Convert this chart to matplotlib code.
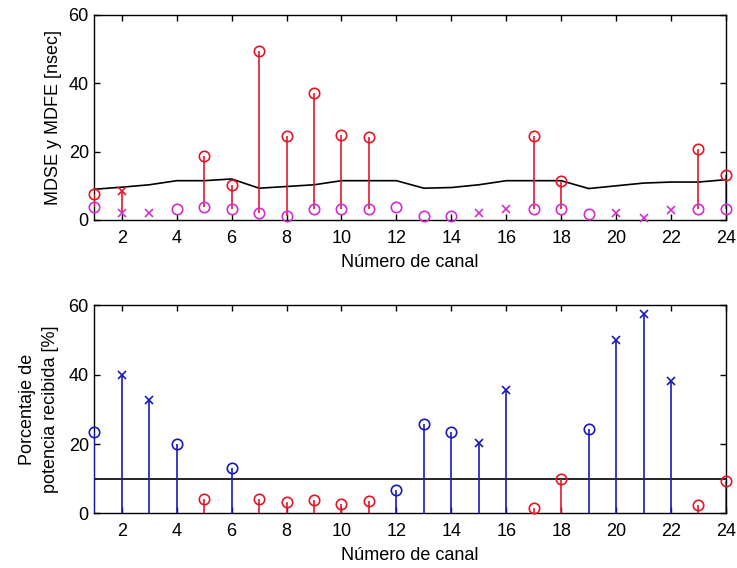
import matplotlib
matplotlib.use("Agg")
import matplotlib.pyplot as plt
import numpy as np

plt.rcParams['font.family'] = ['Liberation Sans', 'DejaVu Sans']

channels = list(range(1, 25))

# Top chart: MDSE (red) and MDFE (magenta) per channel, plus reference curve
mdfe = [3.8, 2.0, 2.0, 3.2, 3.8, 3.2, 2.0, 1.3, 3.2, 3.2, 3.2, 3.8,
        1.3, 1.3, 2.0, 3.2, 3.2, 3.2, 1.8, 2.1, 0.7, 3.0, 3.2, 3.2]
mdse_channels = [1, 2, 5, 6, 7, 8, 9, 10, 11, 17, 18, 23, 24]
mdse = [7.6, 8.5, 18.6, 10.1, 49.5, 24.5, 37.2, 24.9, 24.2, 24.6, 11.5, 20.7, 13.1]
ref_curve = [9.0, 9.6, 10.3, 11.5, 11.5, 12.0, 9.3, 9.8, 10.3, 11.5, 11.5, 11.5,
             9.3, 9.5, 10.3, 11.5, 11.5, 11.5, 9.2, 10.0, 10.8, 11.1, 11.1, 11.8]

# Bottom chart: received power percentage
potencia = [23.5, 39.8, 32.6, 20.1, 4.1, 13.0, 4.1, 3.4, 3.8, 2.6, 3.5, 6.7,
            25.9, 23.4, 20.4, 35.7, 1.5, 10.0, 24.3, 49.9, 57.5, 38.2, 2.5, 9.2]
umbral = 10.0
blue_channels = [1, 2, 3, 4, 6, 12, 13, 14, 15, 16, 19, 20, 21, 22]
cross_channels = [2, 3, 15, 16, 20, 21, 22]

RED = '#e0182a'
MAG = '#d030d0'
BLUE = '#1a1ab8'

fig = plt.figure(figsize=(7.37, 5.68), dpi=100)
ax1 = fig.add_axes([0.128, 0.6127, 0.857, 0.361])
ax2 = fig.add_axes([0.128, 0.0963, 0.857, 0.366])

FS = 13
ms = 7.5

def style(ax):
    ax.set_xlim(1, 24)
    ax.set_ylim(0, 60)
    ax.set_xticks(list(range(2, 25, 2)))
    ax.set_yticks([0, 20, 40, 60])
    ax.tick_params(direction='in', top=True, right=True, length=4.5, width=1,
                   labelsize=FS, color='black')
    ax.tick_params(axis='x', pad=7)
    ax.tick_params(axis='y', pad=4)
    for s in ax.spines.values():
        s.set_linewidth(1.0)
        s.set_color('black')
    ax.set_xlabel('Número de canal', fontsize=FS, labelpad=5)

# ---- top ----
ax1.plot(channels, ref_curve, color='black', lw=1.2, zorder=2)
mdfe_map = dict(zip(channels, mdfe))
ax1.vlines(mdse_channels, [mdfe_map[c] for c in mdse_channels], mdse,
           color=RED, lw=1.2, zorder=3)
for c, v in zip(mdse_channels, mdse):
    mk = 'x' if c in cross_channels else 'o'
    ax1.plot(c, v, marker=mk, color=RED, mfc='none', ms=ms if mk == 'o' else 5.5,
             mew=1.2, ls='none', zorder=4, clip_on=False)
for c, v in zip(channels, mdfe):
    mk = 'x' if c in cross_channels else 'o'
    ax1.plot(c, v, marker=mk, color=MAG, mfc='none', ms=ms if mk == 'o' else 5.5,
             mew=1.2, ls='none', zorder=4, clip_on=False)
style(ax1)
ax1.set_ylabel('MDSE y MDFE [nsec]', fontsize=FS, labelpad=5)

# ---- bottom ----
ax2.axhline(umbral, color='black', lw=1.2, zorder=2)
for c, v in zip(channels, potencia):
    col = BLUE if c in blue_channels else RED
    mk = 'x' if c in cross_channels else 'o'
    ax2.vlines(c, 0, v, color=col, lw=1.2, zorder=3)
    ax2.plot(c, v, marker=mk, color=col, mfc='none', ms=ms if mk == 'o' else 5.5,
             mew=1.2, ls='none', zorder=4, clip_on=False)
style(ax2)
ax2.set_ylabel('Porcentaje de\npotencia recibida [%]', fontsize=FS, labelpad=7,
               linespacing=1.45)

fig.savefig('out.png', dpi=100)
